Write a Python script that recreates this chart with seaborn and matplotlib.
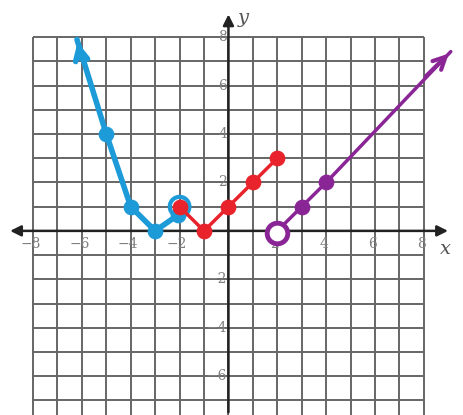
import matplotlib
matplotlib.use('Agg')
import matplotlib.pyplot as plt
import numpy as np
import pandas as pd
import seaborn as sns

sns.set_style('white')

# piece values
blue_x = [-6.2, -5, -4, -3, -2]
blue_y = [7.9, 4, 1, 0, 0.7]
blue_pts_x = [-5, -4, -3, -2.05]
blue_pts_y = [4, 1, 0, 0.65]
red_x = [-2, -1, 0, 1, 2]
red_y = [1, 0, 1, 2, 3]
purple_x = [2, 3, 4, 9.1]
purple_y = [0, 1, 2, 7.4]
purple_pts_x = [3, 4]
purple_pts_y = [1, 2]
x_ticks = [-8, -6, -4, -2, 2, 4, 6, 8]
y_ticks = [-6, -4, -2, 2, 4, 6, 8]

blue = '#1d9ad8'
red = '#e8232b'
purple = '#8a2596'


def lab(v):
    return '\u2212%d' % -v if v < 0 else str(v)


fig = plt.figure(figsize=(4.63, 4.15), dpi=100)
ax = fig.add_axes([0, 0, 1, 1])
ax.set_xlim(-9.35, 9.6)
ax.set_ylim(-7.6, 9.53)
ax.axis('off')

# grid paper
ax.hlines(range(-7, 9), -8, 8, color='#666666', lw=1.4, zorder=1)
ax.vlines(range(-8, 9), -7.6, 8, color='#666666', lw=1.4, zorder=1)

# axes with arrows
ax.annotate('', xy=(-9.05, 0), xytext=(9.1, 0),
            arrowprops=dict(arrowstyle='<|-|>', color='#222222', lw=1.8, mutation_scale=16), zorder=2)
ax.annotate('', xy=(0, 9.05), xytext=(0, -7.6),
            arrowprops=dict(arrowstyle='-|>', color='#222222', lw=1.8, mutation_scale=16), zorder=2)

# tick labels
for v in x_ticks:
    ax.text(v - 0.1, -0.55, lab(v), ha='center', va='center',
            family='DejaVu Serif', fontsize=10, color='#808080', zorder=2)
for v in y_ticks:
    ax.text(-0.05, v, lab(v), ha='right', va='center',
            family='DejaVu Serif', fontsize=10, color='#808080', zorder=2)
ax.text(8.9, -0.75, 'x', family='DejaVu Serif', style='italic', fontsize=14, color='#555555',
        ha='center', va='center')
ax.text(0.62, 8.8, 'y', family='DejaVu Serif', style='italic', fontsize=14, color='#555555',
        ha='center', va='center')

# blue piece
sns.lineplot(x=blue_x, y=blue_y, sort=False, color=blue, lw=4, ax=ax, zorder=4)
sns.scatterplot(x=blue_pts_x, y=blue_pts_y, color=blue, s=110, edgecolor=blue, ax=ax, zorder=4)
ax.annotate('', xy=(blue_x[0], blue_y[0]), xytext=(-6.0, 7.0),
            arrowprops=dict(arrowstyle='->', color=blue, lw=4, mutation_scale=22), zorder=4)
ax.scatter([-2], [1], s=200, facecolor='none', edgecolor=blue, lw=3, zorder=5)

# red piece
sns.lineplot(x=red_x, y=red_y, sort=False, color=red, lw=2.5, ax=ax, zorder=6)
sns.scatterplot(x=red_x, y=red_y, color=red, s=110, edgecolor=red, ax=ax, zorder=6)

# purple piece
sns.lineplot(x=purple_x, y=purple_y, sort=False, color=purple, lw=2.5, ax=ax, zorder=6)
sns.scatterplot(x=purple_pts_x, y=purple_pts_y, color=purple, s=110, edgecolor=purple, ax=ax, zorder=6)
ax.annotate('', xy=(purple_x[-1], purple_y[-1]), xytext=(8.0, 6.3),
            arrowprops=dict(arrowstyle='->', color=purple, lw=3, mutation_scale=22), zorder=6)
ax.scatter([2], [-0.1], s=220, facecolor='white', edgecolor=purple, lw=3.5, zorder=7)

fig.savefig('out.png', dpi=100)
